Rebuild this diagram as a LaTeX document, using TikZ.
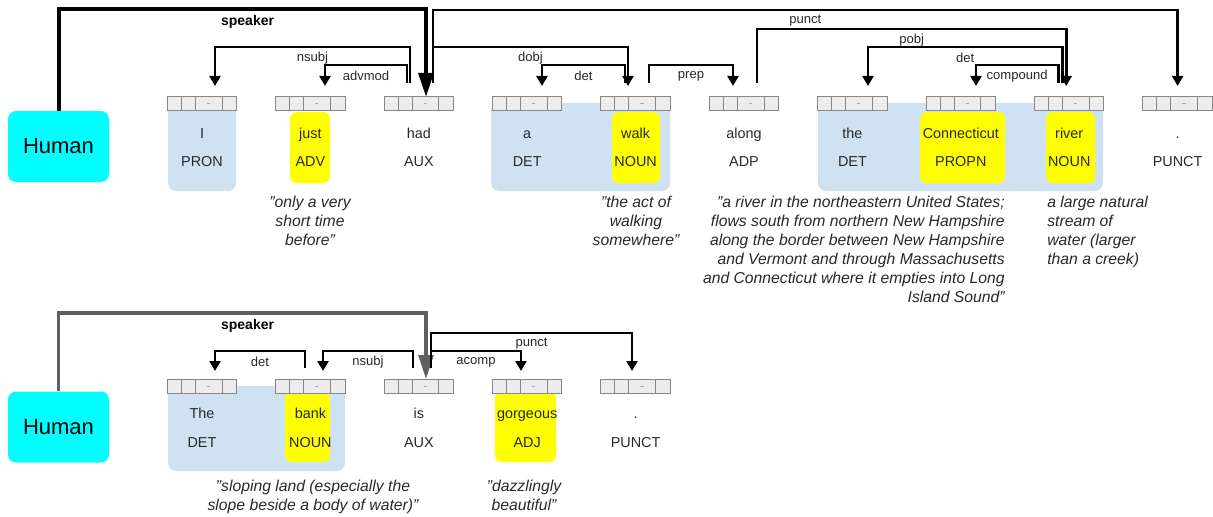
\documentclass[tikz,border=0pt]{standalone}
\usepackage{fontspec}
\setmainfont{Liberation Sans}
\usepackage{tikz}
\usetikzlibrary{arrows.meta,positioning,calc}
\definecolor{humancol}{RGB}{0,255,255}
\definecolor{spancol}{RGB}{207,226,243}
\definecolor{hlcol}{RGB}{255,255,0}
\definecolor{barfill}{RGB}{236,236,236}
\definecolor{barline}{RGB}{135,135,135}
\definecolor{dashcol}{RGB}{190,160,170}
\definecolor{wordcol}{RGB}{40,40,40}
\definecolor{spkgray}{RGB}{95,95,95}

\begin{document}
\begin{tikzpicture}[x=0.75pt, y=-0.75pt,
  human/.style={fill=humancol, rounded corners=6pt, minimum width=75.75pt,
                minimum height=53.25pt, font=\fontsize{16.5}{19}\selectfont},
  tokbar/.style={draw=barline, fill=barfill, line width=0.75pt, inner sep=0pt,
                 outer sep=0pt, minimum width=52pt, minimum height=10.5pt,
    path picture={
      \draw[barline, line width=0.75pt]
        ([xshift=10.5pt]path picture bounding box.south west) -- ([xshift=10.5pt]path picture bounding box.north west)
        ([xshift=21pt]path picture bounding box.south west) -- ([xshift=21pt]path picture bounding box.north west)
        ([xshift=41pt]path picture bounding box.south west) -- ([xshift=41pt]path picture bounding box.north west);
      \draw[dashcol, line width=0.5pt]
        ([xshift=3.6pt]path picture bounding box.center) -- ([xshift=6pt]path picture bounding box.center);
    }},
  word/.style={font=\fontsize{10.8}{13}\selectfont, text=wordcol, inner sep=0pt,
               text height=7.7pt, text depth=0pt},
  tag/.style={word},
  defn/.style={font=\fontsize{11.8}{14.25}\selectfont\itshape, text=wordcol,
               align=center, inner sep=0pt},
  spanbg/.style={fill=spancol, rounded corners=6pt},
  hlbox/.style={fill=hlcol, rounded corners=5pt},
  arr/.style={-{Triangle[length=7.5pt,width=8.2pt]}, line width=2pt},
  spk/.style={-{Triangle[length=18pt,width=11pt]}, line width=3pt},
  lbl/.style={font=\fontsize{9.8}{11}\selectfont, text=wordcol, yshift=-8.25pt},
  spklbl/.style={font=\fontsize{10.5}{12}\selectfont\bfseries, text=black,
                 yshift=-9.4pt, xshift=4pt}
]
\useasboundingbox (0,0) rectangle (1213,517);

% Phrase spans and highlights
\fill[spanbg] (168,103) rectangle (236,191);
\fill[spanbg] (491,103) rectangle (670,191);
\fill[spanbg] (818,103) rectangle (1103,191);
\fill[spanbg] (168,386) rectangle (345,471);
\fill[hlbox] (290,112) rectangle (330,183);
\fill[hlbox] (612,112) rectangle (660,183);
\fill[hlbox] (920,112) rectangle (1005,183);
\fill[hlbox] (1046,112) rectangle (1095,183);
\fill[hlbox] (285,392) rectangle (330,462);
\fill[hlbox] (495,392) rectangle (556,462);

% Speakers
\node[human] (human1) at (58.5,146.5) {Human};
\node[human] (human2) at (58.5,427) {Human};

% First sentence: token bars
\node[tokbar] (bI) at (202,103) {};
\node[tokbar, right=29.3pt of bI] (bjust) {};
\node[tokbar, right=29.3pt of bjust] (bhad) {};
\node[tokbar, right=29.3pt of bhad] (ba) {};
\node[tokbar, right=29.3pt of ba] (bwalk) {};
\node[tokbar, right=29.3pt of bwalk] (balong) {};
\node[tokbar, right=29.3pt of balong] (bthe) {};
\node[tokbar, right=29.3pt of bthe] (bconn) {};
\node[tokbar, right=29.3pt of bconn] (briver) {};
\node[tokbar, right=29.3pt of briver] (bdot) {};

% First sentence: words and tags
\node[word, below=13.4pt of bI] (wI) {I};
\node[word, below=13.4pt of bjust] (wjust) {just};
\node[word, below=13.4pt of bhad] (whad) {had};
\node[word, below=13.4pt of ba] (wa) {a};
\node[word, below=13.4pt of bwalk] (wwalk) {walk};
\node[word, below=13.4pt of balong] (walong) {along};
\node[word, below=13.4pt of bthe] (wthe) {the};
\node[word, below=13.4pt of bconn] (wconn) {Connecticut};
\node[word, below=13.4pt of briver] (wriver) {river};
\node[word, below=13.4pt of bdot] (wdot) {.};
\node[tag, below=13.3pt of wI] (tI) {PRON};
\node[tag, below=13.3pt of wjust] (tjust) {ADV};
\node[tag, below=13.3pt of whad] (thad) {AUX};
\node[tag, below=13.3pt of wa] (ta) {DET};
\node[tag, below=13.3pt of wwalk] (twalk) {NOUN};
\node[tag, below=13.3pt of walong] (talong) {ADP};
\node[tag, below=13.3pt of wthe] (tthe) {DET};
\node[tag, below=13.3pt of wconn] (tconn) {PROPN};
\node[tag, below=13.3pt of wriver] (triver) {NOUN};
\node[tag, below=13.3pt of wdot] (tdot) {PUNCT};

% First sentence: glosses
\node[defn, anchor=north] (djust) at (310,196) {"only a very\\short time\\before"};
\node[defn, anchor=north] (dwalk) at (636,196) {"the act of\\walking\\somewhere"};
\node[defn, anchor=north east, align=right] (dconn) at (1005,196)
     {"a river in the northeastern United States;\\flows south from northern New Hampshire\\along the border between New Hampshire\\and Vermont and through Massachusetts\\and Connecticut where it empties into Long\\Island Sound"};
\node[defn, anchor=north west, align=left] (driver) at (1047,196)
     {a large natural\\stream of\\water (larger\\than a creek)};

% First sentence: arcs
\draw[spk] (human1.north) |- node[spklbl, pos=0.75] {speaker}
     ($(bhad.north)+(7.2,-87)$) -- ($(bhad.north)+(7.2,1)$);
\draw[arr] ($(bhad.north)+(-8.8,-13)$) |- node[lbl, pos=0.75] {nsubj}
     ($(bI.north)+(13,-49)$) -- ($(bI.north)+(13,-10)$);
\draw[arr] ($(bhad.north)+(-11.8,-13)$) |- node[lbl, pos=0.75] {advmod}
     ($(bjust.north)+(14.6,-31)$) -- ($(bjust.north)+(14.6,-10)$);
\draw[arr] ($(bhad.north)+(14.2,-13)$) |- node[lbl, pos=0.75] {dobj}
     ($(bwalk.north)+(-7.6,-49)$) -- ($(bwalk.north)+(-7.6,-10)$);
\draw[arr] ($(bhad.north)+(14.2,-13)$) |- node[lbl, pos=0.75] {punct}
     ($(bdot.north)+(0,-86)$) -- ($(bdot.north)+(0,-10)$);
\draw[arr] ($(bwalk.north)+(-10.6,-13)$) |- node[lbl, pos=0.75] {det}
     ($(ba.north)+(14.8,-31)$) -- ($(ba.north)+(14.8,-10)$);
\draw[arr] ($(bwalk.north)+(13.4,-13)$) |- node[lbl, pos=0.75] {prep}
     ($(balong.north)+(-11,-31)$) -- ($(balong.north)+(-11,-10)$);
\draw[arr] ($(balong.north)+(13,-13)$) |- node[lbl, pos=0.75] {pobj}
     ($(briver.north)+(-3,-67)$) -- ($(briver.north)+(-3,-10)$);
\draw[arr] ($(briver.north)+(-7,-13)$) |- node[lbl, pos=0.75] {det}
     ($(bthe.north)+(15.6,-49)$) -- ($(bthe.north)+(15.6,-10)$);
\draw[arr] ($(briver.north)+(-11,-13)$) |- node[lbl, pos=0.75] {compound}
     ($(bconn.north)+(15.2,-31)$) -- ($(bconn.north)+(15.2,-10)$);

% Second sentence: token bars
\node[tokbar] (bThe) at (202,386) {};
\node[tokbar, right=29.3pt of bThe] (bbank) {};
\node[tokbar, right=29.3pt of bbank] (bis) {};
\node[tokbar, right=29.3pt of bis] (bgorg) {};
\node[tokbar, right=29.3pt of bgorg] (bdottwo) {};

% Second sentence: words and tags
\node[word, below=11.4pt of bThe] (wThe) {The};
\node[word, below=11.4pt of bbank] (wbank) {bank};
\node[word, below=11.4pt of bis] (wis) {is};
\node[word, below=11.4pt of bgorg] (wgorg) {gorgeous};
\node[word, below=11.4pt of bdottwo] (wdottwo) {.};
\node[tag, below=13.3pt of wThe] (tThe) {DET};
\node[tag, below=13.3pt of wbank] (tbank) {NOUN};
\node[tag, below=13.3pt of wis] (tis) {AUX};
\node[tag, below=13.3pt of wgorg] (tgorg) {ADJ};
\node[tag, below=13.3pt of wdottwo] (tdottwo) {PUNCT};

% Second sentence: glosses
\node[defn, anchor=north] (dbank) at (313,480) {"sloping land (especially the\\slope beside a body of water)"};
\node[defn, anchor=north] (dgorg) at (524,480) {"dazzlingly\\beautiful"};

% Second sentence: arcs
\draw[spk, spkgray, line width=2.6pt] (human2.north) |- node[spklbl, pos=0.75] {speaker}
     ($(bis.north)+(7.2,-66)$) -- ($(bis.north)+(7.2,0)$);
\draw[arr] ($(bbank.north)+(-5.4,-11)$) |- node[lbl, pos=0.75] {det}
     ($(bThe.north)+(13,-28)$) -- ($(bThe.north)+(13,-8)$);
\draw[arr] ($(bis.north)+(-5.8,-11)$) |- node[lbl, pos=0.75] {nsubj}
     ($(bbank.north)+(12.6,-28)$) -- ($(bbank.north)+(12.6,-8)$);
\draw[arr] ($(bis.north)+(12.2,-11)$) |- node[lbl, pos=0.75] {acomp}
     ($(bgorg.north)+(-6.2,-28)$) -- ($(bgorg.north)+(-6.2,-8)$);
\draw[arr] ($(bis.north)+(12.2,-11)$) |- node[lbl, pos=0.75] {punct}
     ($(bdottwo.north)+(-3.6,-46)$) -- ($(bdottwo.north)+(-3.6,-8)$);

\end{tikzpicture}
\end{document}
